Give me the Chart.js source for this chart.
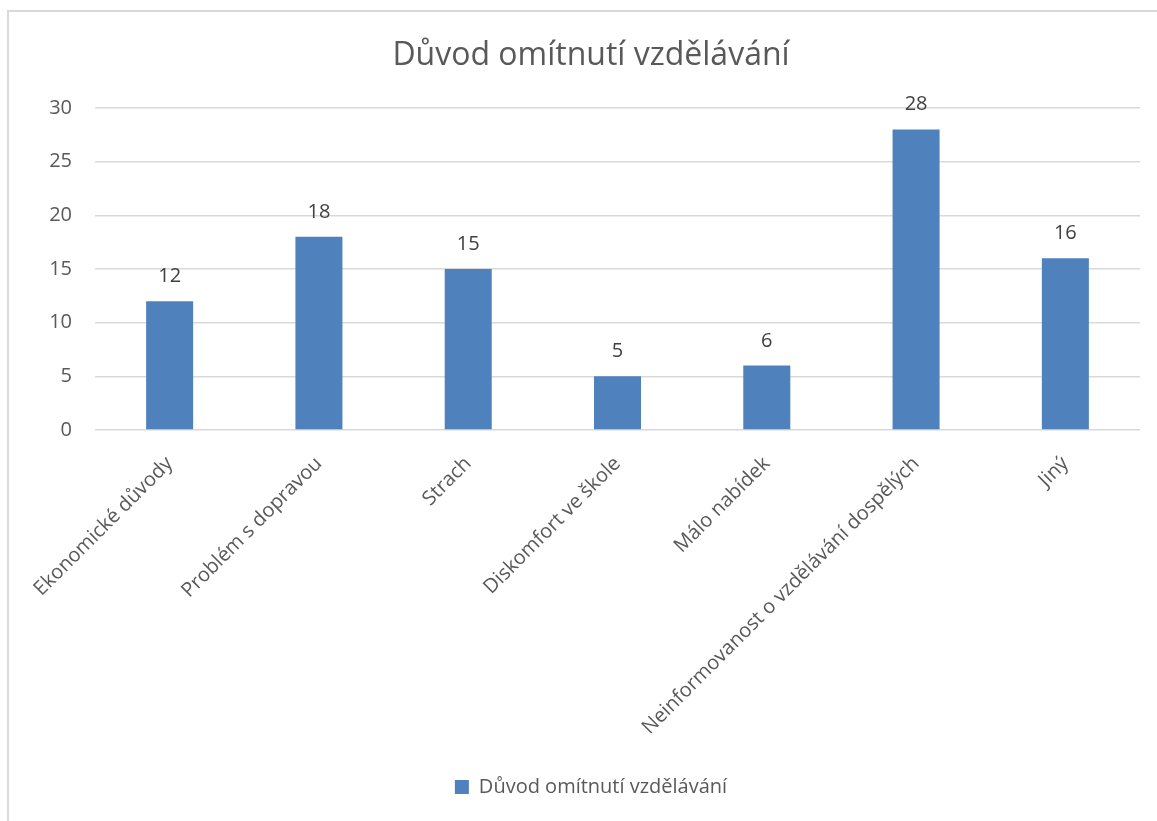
<!DOCTYPE html>
<html>
<head>
<meta charset="utf-8">
<script src="https://cdn.jsdelivr.net/npm/chart.js@4.4.1/dist/chart.umd.min.js"></script>
<style>
  html, body { margin: 0; padding: 0; background: #ffffff; }
  #wrap { position: relative; width: 1157px; height: 821px; overflow: hidden; }
  #frame { position: absolute; left: 7px; top: 10px; width: 1200px; height: 900px;
           border-left: 2px solid #d9d9d9; border-top: 2px solid #d9d9d9; box-sizing: border-box; }
  canvas { position: absolute; left: 0; top: 0; }
</style>
</head>
<body>
<div id="wrap">
  <div id="frame"></div>
  <canvas id="c" width="1157" height="821"></canvas>
</div>
<script>
const chartTitle = "Důvod omítnutí vzdělávání";
const seriesName = "Důvod omítnutí vzdělávání";
const categories = [
  "Ekonomické důvody",
  "Problém s dopravou",
  "Strach",
  "Diskomfort ve škole",
  "Málo nabídek",
  "Neinformovanost o vzdělávání dospělých",
  "Jiný"
];
const values = [12, 18, 15, 5, 6, 28, 16];
const yTicks = [0, 5, 10, 15, 20, 25, 30];

const FONT = "'Open Sans', 'Noto Sans', sans-serif";
const TEXT = "#595959";

const dataLabels = {
  id: "dataLabels",
  afterDatasetsDraw(chart) {
    const ctx = chart.ctx;
    const meta = chart.getDatasetMeta(0);
    ctx.save();
    ctx.font = "20px " + FONT;
    ctx.fillStyle = "#404040";
    ctx.textAlign = "center";
    ctx.textBaseline = "alphabetic";
    meta.data.forEach((bar, i) => {
      ctx.fillText(String(values[i]), bar.x, bar.y - 19);
    });
    ctx.restore();
  }
};

new Chart(document.getElementById("c"), {
  type: "bar",
  data: {
    labels: categories,
    datasets: [{
      label: seriesName,
      data: values,
      backgroundColor: "#4F81BD",
      borderWidth: 0,
      barPercentage: 0.315,
      categoryPercentage: 1.0
    }]
  },
  options: {
    responsive: false,
    animation: false,
    devicePixelRatio: 1,
    layout: { padding: { left: 42, right: 17, top: 0, bottom: 14 } },
    plugins: {
      title: {
        display: true,
        text: chartTitle,
        color: TEXT,
        font: { family: FONT, size: 32, weight: "normal" },
        padding: { top: 36.4, bottom: 33.2 }
      },
      legend: {
        display: true,
        position: "bottom",
        labels: {
          color: TEXT,
          font: { family: FONT, size: 20 },
          boxWidth: 14,
          boxHeight: 14,
          padding: 8
        }
      },
      tooltip: { enabled: false }
    },
    scales: {
      x: {
        grid: { display: false, drawTicks: false },
        border: { display: false },
        ticks: {
          color: TEXT,
          font: { family: FONT, size: 20 },
          maxRotation: 45,
          minRotation: 45,
          autoSkip: false,
          padding: 22,
          labelOffset: 0
        },
        afterFit(s) { s.height = 339; }
      },
      y: {
        min: 0,
        max: 30,
        afterBuildTicks(s) { s.ticks = yTicks.map(v => ({ value: v })); },
        grid: { color: "#d9d9d9", lineWidth: 1.5, drawTicks: false },
        border: { display: false },
        ticks: {
          color: TEXT,
          font: { family: FONT, size: 20 },
          padding: 23
        },
        afterFit(s) { s.width = 53; }
      }
    }
  },
  plugins: [dataLabels]
});
</script>
</body>
</html>
